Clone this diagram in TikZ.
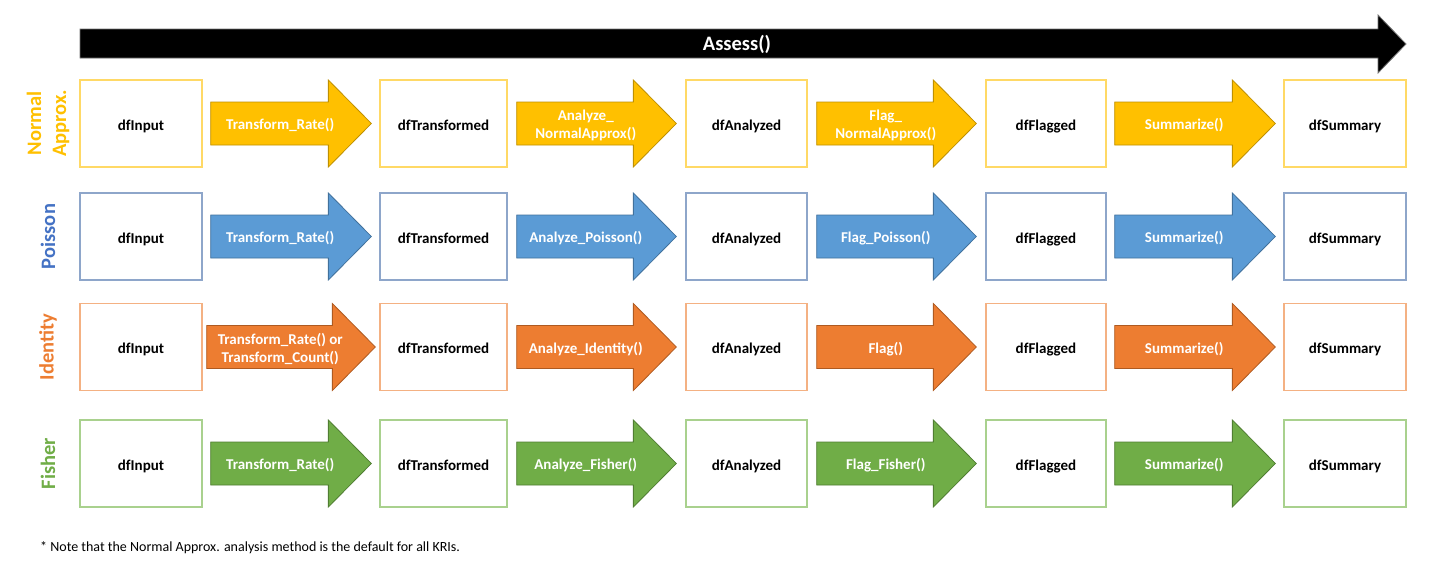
\documentclass[tikz,border=0pt]{standalone}
\usepackage{fontspec}
\setmainfont{Carlito}
\usetikzlibrary{calc}
\definecolor{yfill}{HTML}{FFC000}\definecolor{yline}{HTML}{BF9000}\definecolor{ybox}{HTML}{FFD966}
\definecolor{bfill}{HTML}{5B9BD5}\definecolor{bline}{HTML}{41719C}\definecolor{bbox}{HTML}{8EA6CA}\definecolor{blab}{HTML}{4472C4}
\definecolor{ofill}{HTML}{ED7D31}\definecolor{oline}{HTML}{AE5A21}\definecolor{obox}{HTML}{F4B183}
\definecolor{gfill}{HTML}{70AD47}\definecolor{gline}{HTML}{507E32}\definecolor{gbox}{HTML}{A9D18E}
\newcommand\fatarr[7]{% from, to, gap, fill, line, text, name
  \coordinate (#7s) at ($(#1.east)+(#3,0)$);
  \coordinate (#7t) at ($(#2.west)+(-#3,0)$);
  \coordinate (#7m) at ($(#7t)+(-21.5,0)$);
  \draw[fill=#4, draw=#5, line width=0.8pt, line join=miter]
    let \p1=(#7s), \p2=(#7t) in
    (\x1,\y1+21.5pt) -- (\x2-43pt,\y1+21.5pt) -- (\x2-43pt,\y1+43.5pt) -- (\x2,\y1)
    -- (\x2-43pt,\y1-43.5pt) -- (\x2-43pt,\y1-21.5pt) -- (\x1,\y1-21.5pt) -- cycle;
  \node[arrowtext] (#7) at ($(#7s)!0.5!(#7m)$) {#6};
}
\begin{document}
\begin{tikzpicture}[x=1pt,y=-1pt,
  box/.style={draw, line width=1.3pt, fill=white, minimum height=87pt, inner sep=0pt,
    text height=13pt, text depth=0pt,
    font=\bfseries\fontsize{15}{17}\selectfont, text=black},
  arrowtext/.style={text=white, font=\bfseries\fontsize{15}{18}\selectfont, align=center, inner sep=0pt, yshift=-2pt},
  rowlabel/.style={rotate=90, font=\bfseries\fontsize{20.5}{25}\selectfont, align=center, inner sep=0pt}
]
\useasboundingbox (0,0) rectangle (1432,573);
\fill[white] (0,0) rectangle (1432,573);

% header arrow
\draw[fill=black, draw=black!55, line width=0.8pt]
  (80,29) -- (1378,29) -- (1378,15) -- (1406,44) -- (1378,73) -- (1378,58) -- (80,58) -- cycle;
\node[text=white, font=\bfseries\fontsize{20.5}{24}\selectfont, inner sep=0pt] (assess) at (737,44) {Assess()};

% rows
\foreach \yc/\r/\bc in {123.5/n/ybox, 236.5/p/bbox, 347/i/obox, 463.5/f/gbox}{
  \node[box, draw=\bc, minimum width=122pt] (\r1) at (141,\yc) {dfInput};
  \node[box, draw=\bc, minimum width=127pt] (\r2) at (443.5,\yc) {dfTransformed};
  \node[box, draw=\bc, minimum width=121pt] (\r3) at (746.5,\yc) {dfAnalyzed};
  \node[box, draw=\bc, minimum width=120pt] (\r4) at (1046,\yc) {dfFlagged};
  \node[box, draw=\bc, minimum width=122pt] (\r5) at (1345,\yc) {dfSummary};
}

% row labels
\node[rowlabel, text=yfill] (labn) at (48,123.5) {Normal\\Approx.};
\node[rowlabel, text=blab] (labp) at (48,236.5) {Poisson};
\node[rowlabel, text=ofill] (labi) at (48,347) {Identity};
\node[rowlabel, text=gfill] (labf) at (48,463.5) {Fisher};

% Normal Approx.
\fatarr{n1}{n2}{8}{yfill}{yline}{Transform\_Rate()}{an1}
\fatarr{n2}{n3}{9}{yfill}{yline}{Analyze\_\\NormalApprox()}{an2}
\fatarr{n3}{n4}{9}{yfill}{yline}{Flag\_\\NormalApprox()}{an3}
\fatarr{n4}{n5}{8}{yfill}{yline}{Summarize()}{an4}
% Poisson
\fatarr{p1}{p2}{8}{bfill}{bline}{Transform\_Rate()}{ap1}
\fatarr{p2}{p3}{9}{bfill}{bline}{Analyze\_Poisson()}{ap2}
\fatarr{p3}{p4}{9}{bfill}{bline}{Flag\_Poisson()}{ap3}
\fatarr{p4}{p5}{8}{bfill}{bline}{Summarize()}{ap4}
% Identity
\fatarr{i1}{i2}{4}{ofill}{oline}{Transform\_Rate() or\\Transform\_Count()}{ai1}
\fatarr{i2}{i3}{9}{ofill}{oline}{Analyze\_Identity()}{ai2}
\fatarr{i3}{i4}{9}{ofill}{oline}{Flag()}{ai3}
\fatarr{i4}{i5}{8}{ofill}{oline}{Summarize()}{ai4}
% Fisher
\fatarr{f1}{f2}{8}{gfill}{gline}{Transform\_Rate()}{af1}
\fatarr{f2}{f3}{9}{gfill}{gline}{Analyze\_Fisher()}{af2}
\fatarr{f3}{f4}{9}{gfill}{gline}{Flag\_Fisher()}{af3}
\fatarr{f4}{f5}{8}{gfill}{gline}{Summarize()}{af4}

% footnote
\node[anchor=west, inner sep=0pt, font=\fontsize{14}{16}\selectfont] (note) at (40,548)
  {* Note that the Normal Approx. analysis method is the default for all KRIs.};
\end{tikzpicture}
\end{document}
